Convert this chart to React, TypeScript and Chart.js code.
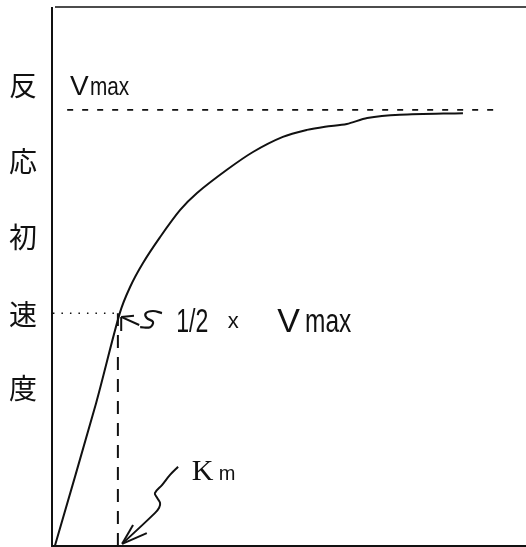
import React, { useEffect, useRef } from "react";
import { Chart, registerables } from "chart.js";

Chart.register(...registerables);

// ---- data (arbitrary units: x = substrate concentration, y = initial rate) ----
const substrate = [0.6, 9.3, 14.3, 16.5, 19.2, 22.8, 27.0, 30.6, 36.9, 42.4, 48.7, 53.8, 57.6, 62.2, 66.5, 73.4, 86.7];
const velocity = [0, 26.5, 43.2, 48.1, 52.5, 57.3, 62.3, 65.5, 69.8, 73.1, 75.9, 77.2, 77.8, 78.3, 79.4, 80.0, 80.3];
const vmax = 80.9;
const vmaxLineX = [3.2, 94.9];
const halfVmax = 43.2;
const km = 13.9;
const yAxisChars = ["反", "応", "初", "速", "度"];
const yAxisCharLevels = [85.5, 71.4, 57.3, 42.9, 29.3];

// annotation arrows (data units)
const halfArrowX = [14.6, 18.4];
const halfArrowY = [42.5, 41.0];
const halfArrowBarbs = [
  [14.6, 39.9],
  [17.3, 42.7],
];
const halfSquiggleX = [23.2, 21.3, 19.8, 20.0, 21.3, 20.7, 18.6];
const halfSquiggleY = [43.2, 43.6, 43.2, 42.3, 41.6, 40.6, 40.6];
const kmArrowX = [26.6, 24.9, 23.2, 21.7, 22.2, 22.8, 22.6, 21.7, 14.8];
const kmArrowY = [14.7, 13.2, 11.3, 9.8, 8.9, 8.0, 7.1, 6.1, 0.4];
const kmArrowBarbs = [
  [17.1, 3.9],
  [20.0, 2.4],
];

const zip = (xs: number[], ys: number[]) => xs.map((x, i) => ({ x, y: ys[i] }));

type Label = { text: string; x: number; y: number; font: string; sx: number };
const labels: Label[] = [
  { text: "V", x: 3.8, y: 83.7, font: '28px "Liberation Sans"', sx: 1 },
  { text: "max", x: 8.0, y: 83.7, font: '26px "Liberation Sans"', sx: 0.8 },
  { text: "1/2", x: 26.2, y: 39.7, font: '34px "Liberation Sans"', sx: 0.68 },
  { text: "x", x: 37.1, y: 40.4, font: '22px "Liberation Sans"', sx: 1 },
  { text: "V", x: 47.5, y: 39.7, font: '34px "Liberation Sans"', sx: 1 },
  { text: "max", x: 53.4, y: 39.7, font: '34px "Liberation Sans"', sx: 0.72 },
  { text: "K", x: 29.5, y: 12.2, font: '30px "Liberation Serif"', sx: 1 },
  { text: "m", x: 35.2, y: 12.2, font: '20px "Liberation Sans"', sx: 1 },
];

const INK = "#111";

const framePlugin = {
  id: "frameAndText",
  afterDatasetsDraw(chart: any) {
    const { ctx, chartArea, scales } = chart;
    const { left, right, top, bottom } = chartArea;
    ctx.save();
    ctx.strokeStyle = INK;
    ctx.lineCap = "butt";
    ctx.lineWidth = 2;
    ctx.beginPath();
    ctx.moveTo(left, top);
    ctx.lineTo(left, bottom);
    ctx.lineTo(right, bottom);
    ctx.stroke();
    ctx.lineWidth = 1.6;
    ctx.beginPath();
    ctx.moveTo(left + 3, top);
    ctx.lineTo(right, top);
    ctx.stroke();

    ctx.fillStyle = INK;
    // y-axis title characters
    ctx.font = '28px "Noto Sans CJK JP"';
    ctx.textAlign = "center";
    ctx.textBaseline = "middle";
    const cx = left - 29;
    yAxisChars.forEach((c, i) => {
      ctx.fillText(c, cx, scales.y.getPixelForValue(yAxisCharLevels[i]));
    });

    ctx.textAlign = "left";
    ctx.textBaseline = "alphabetic";
    labels.forEach((l) => {
      const px = scales.x.getPixelForValue(l.x);
      const py = scales.y.getPixelForValue(l.y);
      ctx.save();
      ctx.translate(px, py);
      ctx.scale(l.sx, 1);
      ctx.font = l.font;
      ctx.fillText(l.text, 0, 0);
      ctx.restore();
    });
    ctx.restore();
  },
};

const line = (data: { x: number; y: number }[], extra: any = {}) => ({
  data,
  showLine: true,
  borderColor: INK,
  borderWidth: 2,
  pointRadius: 0,
  fill: false,
  tension: 0,
  ...extra,
});

export default function App() {
  const ref = useRef<HTMLCanvasElement | null>(null);
  useEffect(() => {
    if (!ref.current) return;
    const barbs = (tip: { x: number; y: number }, pts: number[][]) =>
      pts.map((p) => line([tip, { x: p[0], y: p[1] }], { borderWidth: 2 }));
    const halfTip = { x: halfArrowX[0], y: halfArrowY[0] };
    const kmTip = { x: kmArrowX[kmArrowX.length - 1], y: kmArrowY[kmArrowY.length - 1] };
    const chart = new Chart(ref.current, {
      type: "scatter",
      data: {
        datasets: [
          line(zip(substrate, velocity), { tension: 0.3, borderWidth: 2 }),
          line(vmaxLineX.map((x) => ({ x, y: vmax })), { borderDash: [6, 9], borderWidth: 1.8 }),
          line([{ x: 0.2, y: halfVmax }, { x: km, y: halfVmax }], { borderDash: [1.5, 7], borderWidth: 1.5 }),
          line([{ x: km, y: 0 }, { x: km, y: halfVmax }], { borderDash: [13, 9], borderWidth: 2 }),
          line(zip(halfArrowX, halfArrowY)),
          ...barbs(halfTip, halfArrowBarbs),
          line(zip(halfSquiggleX, halfSquiggleY), { tension: 0.4, borderWidth: 2.2 }),
          line(zip(kmArrowX, kmArrowY), { tension: 0.35, borderWidth: 2 }),
          ...barbs(kmTip, kmArrowBarbs),
        ],
      },
      options: {
        animation: false,
        responsive: false,
        devicePixelRatio: 1,
        layout: { padding: { left: 52, right: 0, top: 7, bottom: 1 } },
        plugins: { legend: { display: false }, tooltip: { enabled: false } },
        events: [],
        scales: {
          x: { type: "linear", min: 0, max: 100, display: false },
          y: { type: "linear", min: 0, max: 100, display: false },
        },
      },
      plugins: [framePlugin],
    });
    return () => chart.destroy();
  }, []);
  return (
    <div style={{ position: "fixed", left: 0, top: 0, width: 526, height: 547, background: "#fff" }}>
      <canvas ref={ref} width={526} height={547} style={{ display: "block" }} />
    </div>
  );
}
